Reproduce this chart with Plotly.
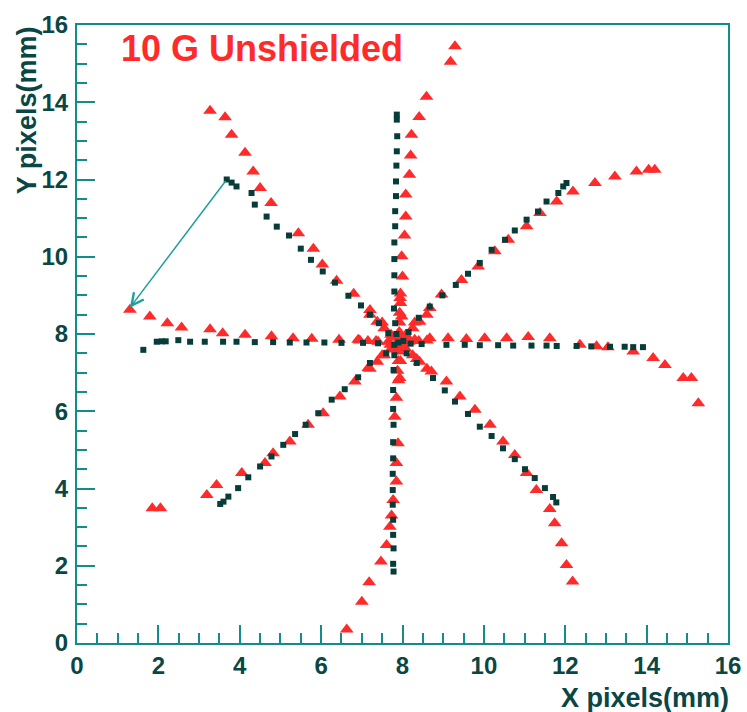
import plotly.graph_objects as go

# ---------------- data ----------------
# dark squares: reference star (8 arms + centre)
dark_up_x = [7.86, 7.86, 7.87, 7.86, 7.85, 7.84, 7.84, 7.82, 7.82, 7.80, 7.80, 7.80, 7.80, 7.79, 7.82, 7.85]
dark_up_y = [13.68, 13.55, 13.12, 12.73, 12.36, 11.95, 11.57, 11.18, 10.79, 10.37, 9.94, 9.52, 9.10, 8.66, 8.28, 8.00]
dark_down_x = [7.80, 7.78, 7.77, 7.77, 7.78, 7.77, 7.77, 7.76, 7.76, 7.76, 7.77, 7.77, 7.78, 7.77, 7.78]
dark_down_y = [7.45, 7.07, 6.55, 6.06, 5.65, 5.20, 4.78, 4.38, 3.96, 3.58, 3.19, 2.80, 2.45, 2.05, 1.85]
dark_left_x = [1.63, 1.96, 2.08, 2.18, 2.49, 2.78, 3.14, 3.59, 3.92, 4.37, 4.82, 5.23, 5.64, 6.08, 6.50, 7.03, 7.40]
dark_left_y = [7.59, 7.80, 7.81, 7.81, 7.84, 7.80, 7.80, 7.80, 7.80, 7.79, 7.79, 7.78, 7.78, 7.78, 7.77, 7.77, 7.76]
dark_right_x = [8.20, 8.47, 9.08, 9.53, 9.90, 10.35, 10.72, 11.17, 11.54, 11.79, 12.28, 12.64, 13.10, 13.46, 13.67, 13.91]
dark_right_y = [7.75, 7.74, 7.72, 7.72, 7.71, 7.71, 7.70, 7.70, 7.70, 7.69, 7.69, 7.68, 7.67, 7.67, 7.66, 7.66]
dark_ur_x = [8.15, 8.40, 8.67, 8.98, 9.31, 9.61, 9.90, 10.19, 10.52, 10.76, 11.05, 11.33, 11.54, 11.83, 11.95, 12.03]
dark_ur_y = [8.05, 8.42, 8.71, 9.00, 9.27, 9.56, 9.84, 10.18, 10.44, 10.68, 10.96, 11.17, 11.43, 11.65, 11.82, 11.91]
dark_lr_x = [8.10, 8.35, 8.75, 9.04, 9.29, 9.61, 9.90, 10.19, 10.47, 10.76, 11.01, 11.25, 11.50, 11.70, 11.78]
dark_lr_y = [7.50, 7.25, 6.86, 6.54, 6.25, 5.93, 5.60, 5.36, 5.04, 4.76, 4.50, 4.27, 4.01, 3.78, 3.64]
dark_ll_x = [7.60, 7.20, 6.91, 6.58, 6.26, 5.93, 5.62, 5.36, 5.07, 4.78, 4.50, 4.21, 3.96, 3.72, 3.60, 3.52]
dark_ll_y = [7.50, 7.25, 6.88, 6.57, 6.30, 5.95, 5.65, 5.41, 5.13, 4.83, 4.57, 4.29, 4.01, 3.79, 3.66, 3.60]
dark_ul_x = [7.65, 7.42, 7.20, 6.98, 6.67, 6.34, 6.04, 5.75, 5.50, 5.21, 4.91, 4.66, 4.37, 4.29, 3.92, 3.80, 3.68]
dark_ul_y = [8.02, 8.28, 8.50, 8.74, 8.99, 9.33, 9.62, 9.92, 10.21, 10.55, 10.78, 11.04, 11.35, 11.65, 11.82, 11.92, 12.00]
dark_c_x = [7.90, 8.02, 7.80]
dark_c_y = [7.78, 7.82, 7.72]

# red triangles: distorted star (10 G unshielded)
red_up_x = [9.29, 9.18, 8.59, 8.41, 8.22, 8.20, 8.17, 8.08, 8.08, 8.05, 7.98, 8.00, 7.94, 7.98]
red_up_y = [15.45, 15.05, 14.14, 13.62, 13.16, 12.62, 12.12, 11.61, 11.04, 10.55, 10.01, 9.49, 8.93, 8.45]
red_down_x = [7.95, 7.93, 7.85, 7.81, 7.89, 7.85, 7.85, 7.77, 7.73, 7.69, 7.61, 7.47, 7.18, 7.00, 6.63]
red_down_y = [7.30, 6.86, 6.35, 5.86, 5.17, 4.66, 4.18, 3.70, 3.30, 3.01, 2.54, 2.11, 1.57, 1.07, 0.35]
red_left_x = [1.30, 1.79, 2.22, 2.57, 3.27, 3.58, 4.13, 4.78, 5.31, 5.77, 6.44, 6.91, 7.35]
red_left_y = [8.63, 8.45, 8.28, 8.17, 8.12, 8.02, 7.98, 7.94, 7.89, 7.88, 7.85, 7.85, 7.82]
red_right_x = [8.30, 8.67, 9.12, 9.57, 10.02, 10.56, 11.09, 11.62, 12.36, 12.77, 13.05, 13.67, 14.16, 14.45, 14.90, 15.10, 15.27]
red_right_y = [7.85, 7.89, 7.89, 7.87, 7.89, 7.89, 7.92, 7.89, 7.72, 7.68, 7.66, 7.55, 7.38, 7.20, 6.86, 6.86, 6.21]
red_ul_x = [3.27, 3.64, 3.80, 4.13, 4.33, 4.50, 4.77, 5.44, 5.81, 6.03, 6.38, 6.80, 7.20, 7.50]
red_ul_y = [13.78, 13.61, 13.16, 12.69, 12.21, 11.78, 11.39, 10.61, 10.21, 9.80, 9.38, 9.04, 8.62, 8.30]
red_ur_x = [8.30, 8.67, 8.96, 9.45, 9.86, 10.27, 10.60, 11.05, 11.38, 11.79, 12.19, 12.73, 13.22, 13.75, 14.05, 14.20]
red_ur_y = [8.30, 8.67, 9.02, 9.40, 9.75, 10.14, 10.44, 10.79, 11.13, 11.43, 11.69, 11.91, 12.08, 12.21, 12.25, 12.25]
red_lr_x = [8.35, 8.71, 9.08, 9.41, 9.78, 10.15, 10.47, 10.76, 11.05, 11.29, 11.62, 11.74, 11.91, 12.03, 12.18]
red_lr_y = [7.35, 7.03, 6.77, 6.38, 6.04, 5.65, 5.22, 4.87, 4.40, 3.96, 3.47, 3.10, 2.58, 2.02, 1.59]
red_ll_x = [7.50, 7.16, 6.83, 6.46, 6.05, 5.68, 5.23, 4.82, 4.62, 4.05, 3.43, 3.19, 2.05, 1.85]
red_ll_y = [7.45, 7.12, 6.77, 6.38, 5.95, 5.65, 5.22, 4.91, 4.66, 4.40, 4.09, 3.83, 3.49, 3.49]
# dense red blob around the centre
red_c_x = [7.92, 7.93, 7.93, 7.95, 7.95, 7.90, 7.90, 7.88, 7.90, 7.65, 7.40, 7.15, 6.95,
           8.15, 8.40, 8.60, 7.72, 7.55, 7.38, 7.20, 8.08, 8.25, 8.42, 8.60,
           8.08, 8.25, 8.42, 8.60, 7.72, 7.55, 7.38, 7.20, 7.90, 7.85, 7.98,
           8.02, 7.78, 8.12, 7.70, 7.96, 7.84]
red_c_y = [8.05, 8.30, 8.55, 8.80, 9.05, 7.55, 7.30, 7.05, 6.80, 7.80, 7.80, 7.82, 7.83,
           7.80, 7.82, 7.83, 7.98, 8.15, 8.32, 8.50, 7.98, 8.15, 8.32, 8.50,
           7.62, 7.45, 7.28, 7.10, 7.62, 7.45, 7.28, 7.10, 7.80, 7.75, 7.85,
           7.68, 7.90, 7.88, 7.72, 7.95, 7.60]

# arrow (tail at dark end point -> head at red end point)
arrow_tail = (3.68, 12.00)
arrow_head = (1.30, 8.68)

# axis ranges / ticks
x_range = [0, 16]
y_range = [0, 16]
tick_vals = [0, 2, 4, 6, 8, 10, 12, 14, 16]

red_x = red_up_x + red_down_x + red_left_x + red_right_x + red_ul_x + red_ur_x + red_lr_x + red_ll_x + red_c_x
red_y = red_up_y + red_down_y + red_left_y + red_right_y + red_ul_y + red_ur_y + red_lr_y + red_ll_y + red_c_y
dark_x = dark_up_x + dark_down_x + dark_left_x + dark_right_x + dark_ur_x + dark_lr_x + dark_ll_x + dark_ul_x + dark_c_x
dark_y = dark_up_y + dark_down_y + dark_left_y + dark_right_y + dark_ur_y + dark_lr_y + dark_ll_y + dark_ul_y + dark_c_y

AXIS = "#138c8c"
LABEL = "#0a4744"
RED = "#ff2a2a"
DARK = "#073d39"
FONT = "Liberation Sans, Arial, Helvetica, sans-serif"

fig = go.Figure()
fig.add_trace(go.Scatter(x=red_x, y=red_y, mode="markers",
                         marker=dict(symbol="triangle-up", size=12, color=RED, line=dict(width=0)),
                         showlegend=False, hoverinfo="skip"))
fig.add_trace(go.Scatter(x=dark_x, y=dark_y, mode="markers",
                         marker=dict(symbol="square", size=6, color=DARK, line=dict(width=0)),
                         showlegend=False, hoverinfo="skip"))

axis_common = dict(
    showgrid=False, zeroline=False,
    showline=True, linecolor=AXIS, linewidth=2, mirror=True,
    ticks="inside", ticklen=18, tickwidth=2, tickcolor=AXIS,
    tickvals=tick_vals,
    tickfont=dict(family=FONT, size=24, color=LABEL, weight="bold"),
    minor=dict(dtick=0.5, ticks="inside", ticklen=10, tickwidth=2, tickcolor=AXIS),
    automargin=False,
)
fig.update_xaxes(**axis_common)
fig.update_yaxes(**axis_common)
fig.update_xaxes(range=x_range, ticklabelstandoff=0)
fig.update_yaxes(range=y_range, ticklabelstandoff=2)

fig.add_annotation(x=arrow_head[0], y=arrow_head[1], ax=arrow_tail[0], ay=arrow_tail[1],
                   xref="x", yref="y", axref="x", ayref="y", text="",
                   showarrow=True, arrowhead=5, arrowsize=1.6, arrowwidth=1.5, arrowcolor="#1f9e9e")

fig.add_annotation(text="10 G Unshielded", xref="paper", yref="paper", x=0.064, y=0.962,
                   xanchor="left", yanchor="middle", showarrow=False,
                   font=dict(family=FONT, size=36, color=RED, weight="bold"))
fig.add_annotation(text="X pixels(mm)", xref="paper", yref="paper", x=1.004, y=-0.089,
                   xanchor="right", yanchor="middle", showarrow=False,
                   font=dict(family=FONT, size=27, color=LABEL, weight="bold"))
fig.add_annotation(text="Y pixels(mm)", xref="paper", yref="paper", x=-0.077, y=0.862,
                   xanchor="center", yanchor="middle", textangle=-90, showarrow=False,
                   font=dict(family=FONT, size=27, color=LABEL, weight="bold"))

fig.update_layout(
    width=747, height=712,
    margin=dict(l=77, r=19, t=25, b=69),
    paper_bgcolor="white", plot_bgcolor="white",
    showlegend=False,
)

fig.write_html("out.html")
